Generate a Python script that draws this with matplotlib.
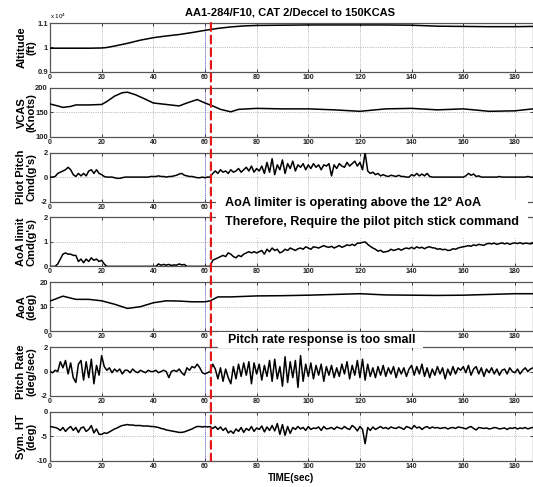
#!/usr/bin/env python3
"""Flight test time history: AA1-284/F10, CAT 2 decel to 150 KCAS."""
import matplotlib
matplotlib.use('Agg')
import matplotlib.pyplot as plt
import numpy as np
from matplotlib.patches import Rectangle, ConnectionPatch

TITLE = 'AA1-284/F10, CAT 2/Deccel to 150KCAS'
EVENT_T = 62.3       # red dashed marker
REF_T = 60           # thin blue dotted marker

# smooth channels, read at irregular times
alt_t = [0, 5, 10, 15, 20, 22, 25, 30, 35, 40, 45, 50, 55, 60, 65, 70, 75, 80,
         90, 100, 110, 120, 130, 140, 145, 150, 160, 170, 180, 187]
alt_v = [0.997, 0.997, 0.997, 0.997, 0.998, 1.000, 1.006, 1.017, 1.030, 1.040,
         1.047, 1.053, 1.061, 1.070, 1.078, 1.084, 1.088, 1.090, 1.091, 1.092,
         1.092, 1.092, 1.092, 1.091, 1.089, 1.087, 1.086, 1.085, 1.085, 1.086]

vcas_t = [0, 3, 5, 8, 10, 15, 20, 22, 25, 28, 30, 33, 36, 40, 45, 50, 53, 57,
          60, 63, 66, 70, 73, 80, 90, 100, 110, 120, 130, 140, 150, 160, 170,
          180, 187]
vcas_v = [167, 163, 160, 162, 165, 165, 166, 172, 183, 190, 191, 186, 179, 169,
          166, 163, 169, 176, 169, 163, 156, 151, 156, 158, 157, 157, 155, 152,
          157, 158, 155, 157, 152, 153, 157]

aoa_t = [0, 5, 10, 15, 20, 25, 30, 35, 40, 45, 50, 55, 60, 62, 65, 70, 80, 90,
         100, 110, 120, 130, 140, 150, 160, 170, 180, 187]
aoa_v = [12.3, 14.3, 13.0, 13.0, 12.4, 11.0, 9.3, 10.0, 11.6, 12.4, 12.3, 12.0,
         12.0, 12.4, 14.0, 14.0, 14.4, 14.5, 14.7, 15.0, 15.3, 14.8, 14.7, 14.6,
         14.7, 15.0, 15.3, 15.3]

# busy channels, read once per second from t = 0 to 187
sec = list(range(188))

pitch_cmd = [
    0, 0, 0.05, 0.3, 0.4, 0.5, 0.6, 0.8, 0.6, 0.2,
    0.05, 0.3, 0.1, 0.3, 0.1, 0.5, 0.6, 0.3, 0.6, 0.3,
    0.2, 0.05, 0, 0, 0, -0.05, -0.1, -0.1, -0.05, 0,
    0, 0, 0, 0, 0, 0, 0, 0, 0, 0.05,
    0.05, 0.05, 0.1, 0.05, 0.05, 0, 0.05, 0.05, 0.1, 0.15,
    0.25, 0.3, 0.15, 0.1, 0.05, 0.05, 0, -0.05, -0.05, 0,
    -0.05, 0, 0, 0.3, 0.5, 0.3, 0.6, 0.4, 0.5, 0.3,
    0.6, 0.4, 0.5, 0.7, 0.4, 0.6, 0.8, 0.5, 0.9, 0.4,
    0.7, 0.5, 0.9, 0.3, 1.2, 0.4, 1.5, 0.2, 1.0, 0.6,
    1.4, 0.3, 1.1, 0.7, 1.3, 0.5, 1.0, 0.8, 1.1, 0.6,
    1.0, 0.7, 1.1, 0.8, 1.0, 0.6, 1.0, 0.9, 1.1, 0.1,
    1.0, 0.7, 1.1, 0.9, 0.8, 1.2, 0.9, 1.1, 1.3, 0.9,
    1.2, 0.6, 2.0, 0.5, 0.3, 0.4, 0.2, 0.3, 0.1, 0.2,
    0.1, 0.05, 0.15, 0.1, 0.05, 0.15, 0.05, 0.05, 0, 0,
    0.2, 0.1, 0.3, 0.1, 0.25, 0.1, 0.3, 0.05, 0, 0,
    0, 0, 0, 0, 0, 0, 0, 0, 0, 0,
    0, 0.1, 0.3, 0.15, 0.25, 0.05, 0.1, 0, 0, 0,
    0, 0, 0, 0, 0.05, 0, 0, 0, 0, 0,
    0, 0, 0, 0, 0, 0.05, 0, 0]

aoa_lim_cmd = [
    0, 0, 0, 0.1, 0.3, 0.5, 0.55, 0.5, 0.5, 0.45,
    0.45, 0.2, 0.3, 0.15, 0.3, 0.2, 0.35, 0.25, 0.3, 0.2,
    0.25, 0.1, 0, 0, 0, 0, 0, 0, 0, 0,
    0, 0, 0, 0, 0, 0, 0, 0, 0, 0,
    0, 0, 0.1, 0.05, 0.08, 0.05, 0.08, 0.04, 0.06, 0.05,
    0.1, 0.06, 0.08, 0, 0, 0, 0, 0, 0, 0,
    0, 0, 0, 0.25, 0.3, 0.35, 0.4, 0.45, 0.4, 0.55,
    0.5, 0.4, 0.35, 0.45, 0.4, 0.5, 0.55, 0.6, 0.55, 0.6,
    0.55, 0.6, 0.65, 0.5, 0.7, 0.6, 0.75, 0.65, 0.7, 0.55,
    0.6, 0.7, 0.65, 0.75, 0.7, 0.65, 0.72, 0.75, 0.7, 0.8,
    0.75, 0.7, 0.8, 0.78, 0.75, 0.8, 0.85, 0.8, 0.78, 0.82,
    0.75, 0.8, 0.85, 0.78, 0.82, 0.88, 0.85, 0.9, 0.85, 0.95,
    0.95, 0.98, 1.0, 0.9, 0.82, 0.75, 0.7, 0.62, 0.66, 0.58,
    0.6, 0.62, 0.7, 0.65, 0.68, 0.72, 0.66, 0.72, 0.75, 0.72,
    0.78, 0.72, 0.8, 0.75, 0.78, 0.72, 0.78, 0.8, 0.76, 0.75,
    0.7, 0.72, 0.68, 0.7, 0.65, 0.66, 0.72, 0.7, 0.75, 0.78,
    0.8, 0.82, 0.85, 0.82, 0.88, 0.85, 0.9, 0.88, 0.86, 0.92,
    0.94, 0.92, 0.95, 0.9, 0.93, 0.96, 0.92, 0.95, 0.9, 0.94,
    0.96, 0.93, 0.97, 0.92, 0.95, 0.94, 0.92, 0.95]

pitch_rate = [
    0.0, -0.1, 0.1, 0.0, 0.8, 0.3, 0.9, -0.2, 0.7, -0.5,
    -0.9, 0.6, 0.9, -0.7, 0.8, -0.5, 1.0, -1.0, 0.5, -0.3,
    1.3, 0.4, 0.1, 0.3, -0.1, 0.2, 0.0, 0.2, -0.2, 0.1,
    0.1, -0.1, 0.2, 0.0, -0.1, 0.1, 0.0, -0.1, 0.1, 0.0,
    0.0, 0.1, -0.1, 0.0, 0.1, 0.0, -0.5, 0.0, 0.1, 0.0,
    0.2, -0.1, -0.3, 0.3, 0.1, 0.4, 0.3, 0.6, 0.3, -0.1,
    -0.2, -0.1, 0.0, 0.6, 0.2, -0.6, 0.3, -0.8, 0.2, -0.5,
    -1.0, 0.4, -0.6, 0.6, -0.4, 0.7, -0.3, 0.8, -1.0, 0.7,
    -0.2, 0.6, -0.7, 0.5, -0.4, 0.9, -0.8, 1.0, -0.6, 0.4,
    -1.2, 1.2, -0.9, 0.8, -0.5, 0.9, -1.3, 1.3, -0.8, 0.6,
    -0.4, 0.7, -0.6, 0.5, -0.3, 0.6, -0.8, 0.4, -0.3, 0.5,
    -0.5, 0.3, -0.4, 0.6, -0.2, 0.8, -0.6, 0.5, -0.3, 0.9,
    -0.5, 1.0, -0.7, 0.6, -0.4, 0.3, -0.5, 0.4, -0.3, 0.5,
    -0.4, 0.3, -0.2, 0.4, -0.5, 0.3, -0.2, 0.3, -0.4, 0.2,
    0.5, -0.3, 0.4, -0.2, 0.6, -0.4, 0.3, -0.5, 0.2, -0.3,
    0.4, -0.2, 0.3, -0.6, 0.2, -0.3, 0.4, -0.2, 0.3, 0.1,
    0.4, -0.1, 0.5, -0.3, 0.2, 0.4, -0.2, 0.3, -0.4, 0.2,
    -0.1, 0.3, -0.2, 0.2, -0.3, 0.1, 0.2, -0.2, 0.3, 0.0,
    -0.1, 0.2, -0.2, 0.1, 0.3, 0.0, 0.2, 0.3]

sym_ht = [
    -3.0, -3.1, -3.2, -3.4, -3.8, -3.2, -4.0, -3.4, -3.0, -3.8,
    -3.2, -4.2, -3.3, -3.1, -4.0, -3.6, -2.8, -4.3, -3.5, -4.6,
    -4.6, -4.3, -4.4, -4.1, -3.8, -3.5, -3.3, -3.0, -2.8, -2.7,
    -2.6, -2.7, -2.7, -2.8, -2.8, -2.8, -2.9, -2.9, -2.9, -3.0,
    -3.0, -3.1, -3.2, -3.4, -3.5, -3.7, -3.8, -3.9, -4.0, -4.1,
    -4.2, -4.2, -4.1, -3.9, -3.7, -3.5, -3.2, -3.0, -3.0, -3.1,
    -3.0, -3.1, -3.0, -3.4, -3.0, -3.6, -3.1, -3.8, -3.3, -4.3,
    -3.9, -4.4, -3.5, -4.0, -3.2, -4.2, -3.4, -3.8, -3.0, -4.0,
    -3.3, -3.6, -2.9, -4.1, -3.1, -3.8, -2.8, -3.9, -2.4, -4.6,
    -2.6, -4.8, -3.0, -4.4, -3.2, -3.6, -3.0, -3.5, -3.2, -3.8,
    -3.0, -3.6, -3.3, -3.4, -3.1, -3.8, -3.0, -3.5, -3.4, -3.2,
    -3.6, -3.1, -3.3, -3.5, -3.0, -3.4, -3.6, -2.8, -3.2, -3.9,
    -3.0, -3.6, -6.5, -3.2, -3.8, -3.1, -3.6, -3.3, -3.0, -3.4,
    -3.2, -3.5, -3.1, -3.3, -3.4, -3.1, -3.3, -3.6, -3.0, -3.2,
    -3.5, -2.8, -3.3, -3.1, -3.6, -3.2, -3.0, -3.4, -3.1, -3.3,
    -3.2, -3.4, -3.3, -3.2, -3.5, -3.3, -3.2, -3.4, -3.1, -3.2,
    -3.3, -3.5, -3.2, -3.0, -3.4, -3.7, -3.2, -3.3, -3.4, -3.3,
    -3.5, -3.4, -3.2, -3.3, -3.5, -3.4, -3.3, -3.6, -3.3, -3.4,
    -3.2, -3.5, -3.3, -3.4, -3.2, -3.5, -3.3, -3.2]

PANELS = [
    ('Altitude\n(ft)', alt_t, alt_v, (0.9, 1.1), [0.9, 1, 1.1], ['0.9', '1', '1.1']),
    ('VCAS\n(Knots)', vcas_t, vcas_v, (100, 200), [100, 150, 200], ['100', '150', '200']),
    ("Pilot Pitch\nCmd(g's)", sec, pitch_cmd, (-2, 2), [-2, 0, 2], ['-2', '0', '2']),
    ("AoA limit\nCmd(g's)", sec, aoa_lim_cmd, (0, 2), [0, 1, 2], ['0', '1', '2']),
    ('AoA\n(deg)', aoa_t, aoa_v, (0, 20), [0, 10, 20], ['0', '10', '20']),
    ('Pitch Rate\n(deg/sec)', sec, pitch_rate, (-2, 2), [-2, 0, 2], ['-2', '0', '2']),
    ('Sym. HT\n(deg)', sec, sym_ht, (-10, 0), [-10, -5, 0], ['-10', '-5', '0']),
]
XTICKS = list(range(0, 181, 20))
# x tick labels hidden under the pasted note boxes: panel index -> ticks
HIDDEN_XT = {2: [80, 100, 120, 140, 160, 180], 4: [80, 100, 120, 140]}

W, H = 533, 487
LABEL_FONT = ['Liberation Sans', 'DejaVu Sans']


def px_box(x0, y0, x1, y1):
    """pixel box (top-left origin) -> figure fraction rect"""
    return [x0 / W, 1 - y1 / H, (x1 - x0) / W, (y1 - y0) / H]


fig = plt.figure(figsize=(W / 100, H / 100), dpi=100)
fig.patch.set_facecolor('white')

axes = []
for i, (label, t, v, ylim, yt, ytl) in enumerate(PANELS):
    top = 23 + 64.8 * i
    ax = fig.add_axes(px_box(50, top, 533, top + 49))
    ax.plot(t, v, color='black', lw=1.1, zorder=3)
    ax.axvline(REF_T, color='#3344ff', lw=0.6, ls=':', zorder=2)
    ax.set_xlim(0, 187)
    ax.set_ylim(*ylim)
    ax.set_xticks(XTICKS)
    hidden = HIDDEN_XT.get(i, [])
    ax.set_xticklabels(['' if x in hidden else str(x) for x in XTICKS],
                       fontsize=5, fontweight='bold', family=LABEL_FONT)
    ax.set_yticks(yt)
    ax.set_yticklabels(ytl, fontsize=5.5, fontweight='bold', family=LABEL_FONT)
    ax.tick_params(direction='in', length=2.5, width=0.6, pad=1.5,
                   top=True, right=True, colors='#222222')
    ax.grid(True, color='#888888', lw=0.5, ls=':')
    for s in ax.spines.values():
        s.set_color('#555555')
        s.set_linewidth(0.9)
    ax.set_ylabel(label, fontsize=8, fontweight='bold', family=LABEL_FONT,
                  linespacing=1.0)
    ax.yaxis.set_label_coords(-0.028, 0.5)
    axes.append(ax)

axes[0].text(0.0, 1.04, r'x 10$^4$', transform=axes[0].transAxes,
             fontsize=4.5, ha='left', va='bottom', family=LABEL_FONT)
axes[-1].set_xlabel('TIME(sec)', fontsize=7, fontweight='bold',
                    family=LABEL_FONT, labelpad=2)
fig.suptitle(TITLE, x=0.545, y=0.985, fontsize=8, fontweight='bold',
             family=LABEL_FONT, va='top')

# red dashed event line running through all panels
con = ConnectionPatch(xyA=(EVENT_T, PANELS[0][3][1]), coordsA=axes[0].transData,
                      xyB=(EVENT_T, PANELS[-1][3][0]), coordsB=axes[-1].transData,
                      color='#e01818', lw=1.6, ls=(0, (3.5, 2.2)), zorder=8)
fig.add_artist(con)

# note boxes pasted over the plots
for rect in (px_box(216, 199, 528, 237), px_box(218, 332, 423, 348)):
    fig.add_artist(Rectangle((rect[0], rect[1]), rect[2], rect[3],
                             transform=fig.transFigure, facecolor='white',
                             edgecolor='none', zorder=9))

fig.text(225 / W, 1 - 203 / H, u'AoA limiter is operating above the 12\u00b0 AoA',
         fontsize=9.1, fontweight='bold', family=LABEL_FONT, va='center', zorder=10)
fig.text(225 / W, 1 - 222 / H, 'Therefore, Require the pilot pitch stick command',
         fontsize=9.1, fontweight='bold', family=LABEL_FONT, va='center', zorder=10)
fig.text(228 / W, 1 - 340 / H, 'Pitch rate response is too small',
         fontsize=8.9, fontweight='bold', family=LABEL_FONT, va='center', zorder=10)

fig.savefig('out.png', dpi=100, facecolor='white')
